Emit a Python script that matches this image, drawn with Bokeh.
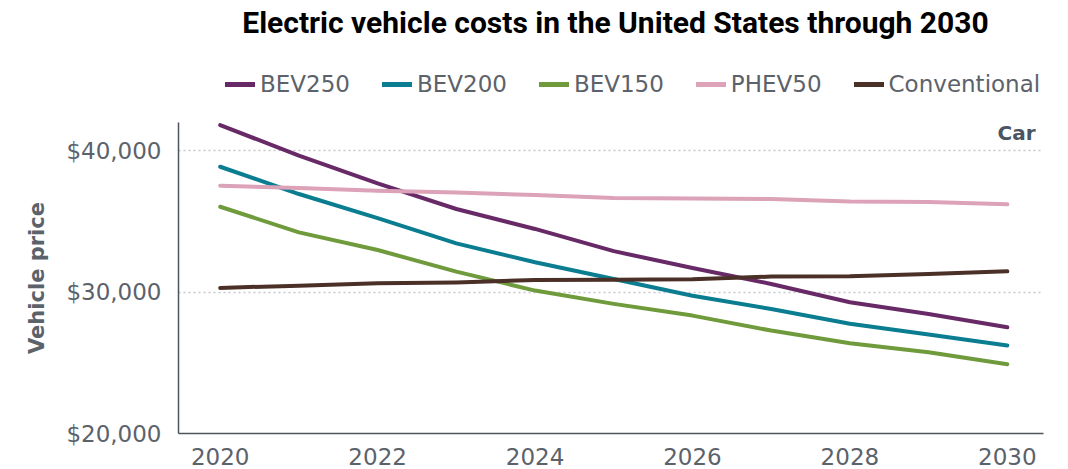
from bokeh.plotting import figure
from bokeh.layouts import column
from bokeh.models import Legend, LegendItem, Label, NumeralTickFormatter, FixedTicker, Range1d
from bokeh.embed import file_html
from bokeh.resources import INLINE

years = [2020, 2021, 2022, 2023, 2024, 2025, 2026, 2027, 2028, 2029, 2030]
bev250 = [41820, 39650, 37690, 35880, 34470, 32900, 31710, 30580, 29280, 28460, 27510]
bev200 = [38870, 36940, 35240, 33450, 32110, 30930, 29750, 28810, 27760, 27000, 26220]
bev150 = [36040, 34230, 32980, 31450, 30110, 29170, 28340, 27280, 26380, 25750, 24900]
phev50 = [37530, 37360, 37170, 37050, 36870, 36660, 36630, 36590, 36420, 36380, 36210]
conventional = [30300, 30460, 30620, 30690, 30860, 30880, 30920, 31100, 31120, 31290, 31470]
series_names = ["BEV250", "BEV200", "BEV150", "PHEV50", "Conventional"]
series_colors = ["#682a67", "#0b7d91", "#6f9b3c", "#dca2b8", "#4b3027"]
y_ticks = [20000, 30000, 40000]
x_ticks = [2020, 2022, 2024, 2026, 2028, 2030]
all_series = [bev250, bev200, bev150, phev50, conventional]

TEXT = "#5c626a"
AXIS = "#4d545c"
TICKFONT = "DejaVu Sans"

# ---- header figure: title + legend ----
head = figure(width=1068, height=122, output_backend="svg", toolbar_location=None,
              x_range=Range1d(2019.47, 2030.46), y_range=Range1d(0, 1),
              x_axis_location=None, y_axis_location=None,
              min_border_left=0, min_border_right=0, min_border_top=0, min_border_bottom=0)
head.outline_line_color = None
head.grid.grid_line_color = None
head.title = None

items = []
for name, ys, col in zip(series_names, all_series, series_colors):
    r = head.line(years, ys, line_color=col, line_width=5, line_cap="round")
    items.append(LegendItem(label=name, renderers=[r]))

legend = Legend(items=items, orientation="horizontal", location=(47, 25),
                glyph_width=30, glyph_height=20, label_standoff=5, spacing=32,
                padding=0, margin=0, border_line_color=None, background_fill_alpha=0,
                label_text_font=TICKFONT, label_text_font_size="23px", label_text_color=TEXT)
head.add_layout(legend, "center")

title = Label(x=437, y=100, x_units="screen", y_units="screen",
              text="Electric vehicle costs in the United States through 2030",
              text_font="Roboto", text_font_style="bold", text_font_size="30px",
              text_color="black", text_align="center", text_baseline="middle")
head.add_layout(title)

# ---- main chart ----
p = figure(width=1068, height=347, output_backend="svg", toolbar_location=None,
           x_range=Range1d(2019.47, 2030.46), y_range=Range1d(20000, 42000),
           min_border_left=178, min_border_right=25, min_border_top=0, min_border_bottom=36)
p.outline_line_color = None
p.title = None

for ys, col in zip(all_series, series_colors):
    p.line(years, ys, line_color=col, line_width=4, line_cap="round", line_join="round")

p.xaxis.ticker = FixedTicker(ticks=x_ticks)
p.yaxis.ticker = FixedTicker(ticks=y_ticks)
p.yaxis.formatter = NumeralTickFormatter(format="$0,0")
for ax in [p.xaxis[0], p.yaxis[0]]:
    ax.axis_line_color = AXIS
    ax.axis_line_width = 1.5
    ax.major_tick_line_color = None
    ax.minor_tick_line_color = None
    ax.major_label_text_color = TEXT
    ax.major_label_text_font = TICKFONT
    ax.major_label_text_font_size = "23px"
p.xaxis.major_label_standoff = 8
p.yaxis.major_label_standoff = 11
p.yaxis.axis_label = "Vehicle price"
p.yaxis.axis_label_text_font = TICKFONT
p.yaxis.axis_label_text_font_style = "bold"
p.yaxis.axis_label_text_font_size = "21px"
p.yaxis.axis_label_text_color = TEXT
p.yaxis.axis_label_standoff = 14

p.xgrid.grid_line_color = None
p.ygrid.grid_line_color = "#c4c7cb"
p.ygrid.grid_line_dash = "2 3"
p.ygrid.grid_line_width = 1.5

car = Label(x=857, y=301, x_units="screen", y_units="screen", text="Car",
            text_font=TICKFONT, text_font_style="bold", text_font_size="20px",
            text_color="#4a5561", text_align="right", text_baseline="middle")
p.add_layout(car)

layout = column(head, p, spacing=0)
open("out.html", "w").write(file_html(layout, INLINE))
